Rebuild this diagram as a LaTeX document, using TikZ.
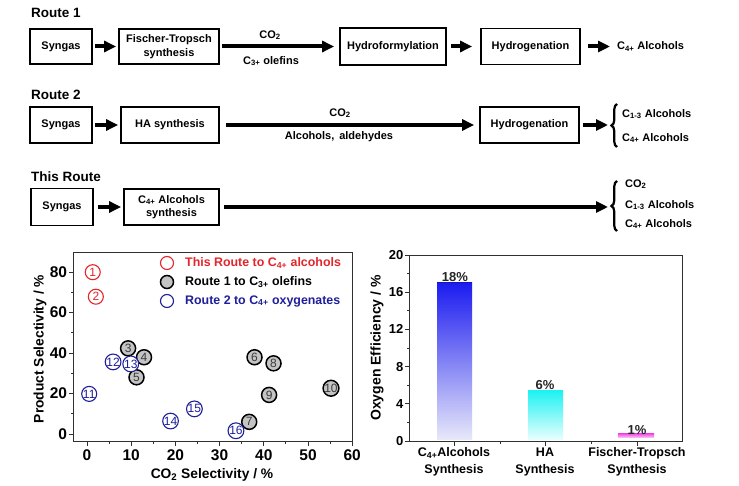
\documentclass[tikz,border=0pt]{standalone}
\usepackage{fontspec}
\setmainfont{Liberation Sans}
\usetikzlibrary{arrows.meta,decorations.pathreplacing,calc}
\definecolor{myred}{HTML}{E4262C}
\definecolor{myblue}{HTML}{1F1F9A}
\definecolor{ptgray}{HTML}{C4C4C4}
\definecolor{numgray}{HTML}{3A3A3A}
\definecolor{axgray}{HTML}{303030}
\definecolor{bartopA}{HTML}{1C1CF0}
\definecolor{barbotA}{HTML}{E8E8FA}
\definecolor{bartopB}{HTML}{1EF2F2}
\definecolor{barbotB}{HTML}{EAFEFE}
\definecolor{bartopC}{HTML}{F050E6}
\definecolor{barbotC}{HTML}{F8B8F2}
\begin{document}
\begin{tikzpicture}[x=1pt,y=-1pt,
  box/.style={draw, line width=1.8pt, font=\bfseries\fontsize{11}{13.5}\selectfont, align=center, inner sep=0pt, minimum height=35pt},
  flow/.style={line width=4pt, -{Triangle[length=12pt,width=11pt]}, shorten <=2pt, shorten >=2pt},
  lbl/.style={font=\bfseries\fontsize{11}{13}\selectfont, inner sep=0pt},
  rtitle/.style={font=\bfseries\fontsize{13.5}{15}\selectfont, anchor=west, inner sep=0pt},
  bracestyle/.style={decorate, decoration={brace, amplitude=5.5pt}, line width=2.2pt},
  axisline/.style={draw=axgray, line width=0.9pt},
  ticklbl/.style={font=\bfseries\fontsize{15.5}{16}\selectfont, inner sep=0pt},
  bticklbl/.style={font=\bfseries\fontsize{13}{14}\selectfont, inner sep=0pt},
  axlbl/.style={font=\bfseries\fontsize{13.8}{15}\selectfont, inner sep=0pt},
  ptnum/.style={circle, inner sep=0pt, minimum size=15pt, font=\fontsize{12}{12}\selectfont},
  redpt/.style={ptnum, draw=myred, line width=1.1pt, text=myred},
  graypt/.style={ptnum, draw=black, fill=ptgray, line width=1.5pt, text=numgray},
  bluept/.style={ptnum, draw=myblue, fill=white, line width=1.1pt, text=myblue},
  leglbl/.style={font=\bfseries\fontsize{12.4}{14}\selectfont, anchor=west, inner sep=0pt},
  pct/.style={font=\bfseries\fontsize{13}{14}\selectfont, inner sep=0pt, text=black!85},
  catlbl/.style={font=\bfseries\fontsize{12.5}{17}\selectfont, align=center, inner sep=0pt}
]
\useasboundingbox[fill=white] (0,0) rectangle (739,486);

% ---------------- Route 1 ----------------
\node[rtitle] (r1) at (31,13) {Route 1};
\node[box, minimum width=62pt] (s1) at (61,46.5) {Syngas};
\node[box, minimum width=100pt] (ft) at (169,46.5) {Fischer-Tropsch\\synthesis};
\node[box, minimum width=106pt, minimum height=37pt] (hf) at (393,46.5) {Hydroformylation};
\node[box, minimum width=99pt, minimum height=36pt] (hg1) at (530.5,46.5) {Hydrogenation};
\node[lbl, anchor=west] (c4a) at (617,46.5) {C\textsubscript{4+} Alcohols};
\node[lbl] (co2a) at (270,35) {CO\textsubscript{2}};
\node[lbl] (ola) at (271,61) {C\textsubscript{3+} olefins};
\draw[flow] (s1) -- (ft);
\draw[flow, shorten >=5pt] (ft) -- (hf);
\draw[flow, shorten <=4pt, shorten >=8pt] (hf) -- (hg1);
\draw[flow, shorten <=7pt, shorten >=7pt] (hg1) -- (c4a);

% ---------------- Route 2 ----------------
\node[rtitle] (r2) at (31,95) {Route 2};
\node[box, minimum width=62pt, minimum height=36pt] (s2) at (61,125) {Syngas};
\node[box, minimum width=98pt, minimum height=36pt] (ha) at (170,125) {HA synthesis};
\node[box, minimum width=99pt, minimum height=36pt] (hg2) at (529.5,125) {Hydrogenation};
\coordinate (b2) at (612,125);
\node[lbl] (co2b) at (340,113) {CO\textsubscript{2}};
\node[lbl] (ald) at (339,137) {Alcohols,\, aldehydes};
\draw[flow] (s2) -- (ha);
\draw[flow, shorten <=6pt, shorten >=5pt] (ha) -- (hg2);
\draw[flow, shorten <=3pt, shorten >=4pt] (hg2) -- (b2);
\draw[bracestyle] (617,147) -- (617,104);
\node[lbl, anchor=west] (c13b) at (622,114) {C\textsubscript{1-3} Alcohols};
\node[lbl, anchor=west] (c4b) at (622,138) {C\textsubscript{4+} Alcohols};

% ---------------- This Route ----------------
\node[rtitle] (r3) at (31,177) {This Route};
\node[box, minimum width=62pt, minimum height=37pt] (s3) at (62,207) {Syngas};
\node[box, minimum width=95pt, minimum height=36pt] (c4s) at (171.5,207) {C\textsubscript{4+} Alcohols\\synthesis};
\coordinate (b3) at (612,207);
\draw[flow, shorten <=4pt] (s3) -- (c4s);
\draw[flow, shorten <=4pt, shorten >=4pt] (c4s) -- (b3);
\draw[bracestyle] (617,231) -- (617,181);
\node[lbl, anchor=west] (co2c) at (625,184) {CO\textsubscript{2}};
\node[lbl, anchor=west] (c13c) at (625,205) {C\textsubscript{1-3} Alcohols};
\node[lbl, anchor=west] (c4c) at (625,224) {C\textsubscript{4+} Alcohols};

% ---------------- Scatter plot ----------------
\begin{scope}[shift={(87,434)}, x=4.42pt, y=2.025pt]
  \draw[axisline] (-3,-3.5) rectangle (60,89.5);
  \foreach \v in {0,10,...,60} {
    \draw[axisline] (\v,-3.5) -- ++(0,-4.5pt);
    \node[ticklbl] (xt\v) at ([yshift=-14pt]\v,-3.5) {\v};
  }
  \foreach \v in {5,15,...,55} \draw[axisline] (\v,-3.5) -- ++(0,-2.5pt);
  \foreach \v in {0,20,...,80} {
    \draw[axisline] (-3,\v) -- ++(-4.5pt,0);
    \node[ticklbl, anchor=east] (yt\v) at ([xshift=-6.5pt]-3,\v) {\v};
  }
  \foreach \v in {10,30,50,70} \draw[axisline] (-3,\v) -- ++(-2.5pt,0);
  % route 1 (gray)
  \node[graypt] (p3) at (9.3,42.3) {3};
  \node[graypt] (p4) at (12.9,37.9) {4};
  \node[graypt] (p5) at (11.2,28.0) {5};
  \node[graypt] (p6) at (37.9,37.9) {6};
  \node[graypt] (p7) at (36.7,6.0) {7};
  \node[graypt] (p8) at (42.2,34.9) {8};
  \node[graypt] (p9) at (41.2,19.3) {9};
  \node[graypt] (p10) at (55.2,22.6) {10};
  % route 2 (blue)
  \node[bluept] (p11) at (0.5,19.8) {11};
  \node[bluept] (p12) at (5.9,35.6) {12};
  \node[bluept] (p13) at (9.9,34.6) {13};
  \node[bluept] (p14) at (18.9,6.4) {14};
  \node[bluept] (p15) at (24.3,12.4) {15};
  \node[bluept] (p16) at (33.7,1.6) {16};
  % this route (red)
  \node[redpt] (p1) at (1.3,79.9) {1};
  \node[redpt] (p2) at (2.0,67.8) {2};
\end{scope}
\node[axlbl, rotate=90] (ylab1) at (40,349) {Product Selectivity / \%};
\node[axlbl] (xlab1) at (212,475) {CO\textsubscript{2} Selectivity / \%};
% legend
\node[circle, draw=myred, line width=1.1pt, minimum size=13pt, inner sep=0pt] (lg1) at (167,263) {};
\node[circle, draw=black, fill=ptgray, line width=1.5pt, minimum size=13pt, inner sep=0pt] (lg2) at (167,282) {};
\node[circle, draw=myblue, line width=1.1pt, minimum size=13pt, inner sep=0pt] (lg3) at (167,301) {};
\node[leglbl, text=myred] (lt1) at (185,263) {This Route to C\textsubscript{4+} alcohols};
\node[leglbl, text=black] (lt2) at (185,282) {Route 1 to C\textsubscript{3+} olefins};
\node[leglbl, text=myblue] (lt3) at (185,301) {Route 2 to C\textsubscript{4+} oxygenates};

% ---------------- Bar chart ----------------
\begin{scope}[shift={(0,441)}, x=1pt, y=9.3pt]
  \shade[top color=bartopA, bottom color=barbotA] (437,0.15) rectangle (472,17);
  \draw[bartopA!80!black, line width=0.8pt] (437,17) -- (472,17);
  \shade[top color=bartopB, bottom color=barbotB] (528,0.15) rectangle (563,5.4);
  \shade[top color=bartopC, bottom color=barbotC] (618,0.42) rectangle (654,0.78);
  \draw[axisline] (409,-0.1) rectangle (682,20);
  \foreach \v in {0,4,...,20} {
    \draw[axisline] (409,\v) -- ++(-4.5pt,0);
    \node[bticklbl, anchor=east] (bt\v) at ([xshift=-5.5pt]409,\v) {\v};
  }
  \foreach \v in {2,6,...,18} \draw[axisline] (409,\v) -- ++(-2.5pt,0);
  \foreach \u in {454,545,637} \draw[axisline] (\u,-0.1) -- ++(0,-4.5pt);
  \foreach \u in {500,591} \draw[axisline] (\u,-0.1) -- ++(0,-2.5pt);
\end{scope}
\node[pct] (pc1) at (455,277) {18\%};
\node[pct] (pc2) at (545,385) {6\%};
\node[pct] (pc3) at (637,430) {1\%};
\node[catlbl] (cat1) at (454,461.5) {C\textsubscript{4+}Alcohols\\Synthesis};
\node[catlbl] (cat2) at (545,461.5) {HA\\Synthesis};
\node[catlbl] (cat3) at (637,461.5) {Fischer-Tropsch\\Synthesis};
\node[axlbl, font=\bfseries\fontsize{14}{15}\selectfont, rotate=90] (ylab2) at (377,348) {Oxygen Efficiency / \%};
\end{tikzpicture}
\end{document}
